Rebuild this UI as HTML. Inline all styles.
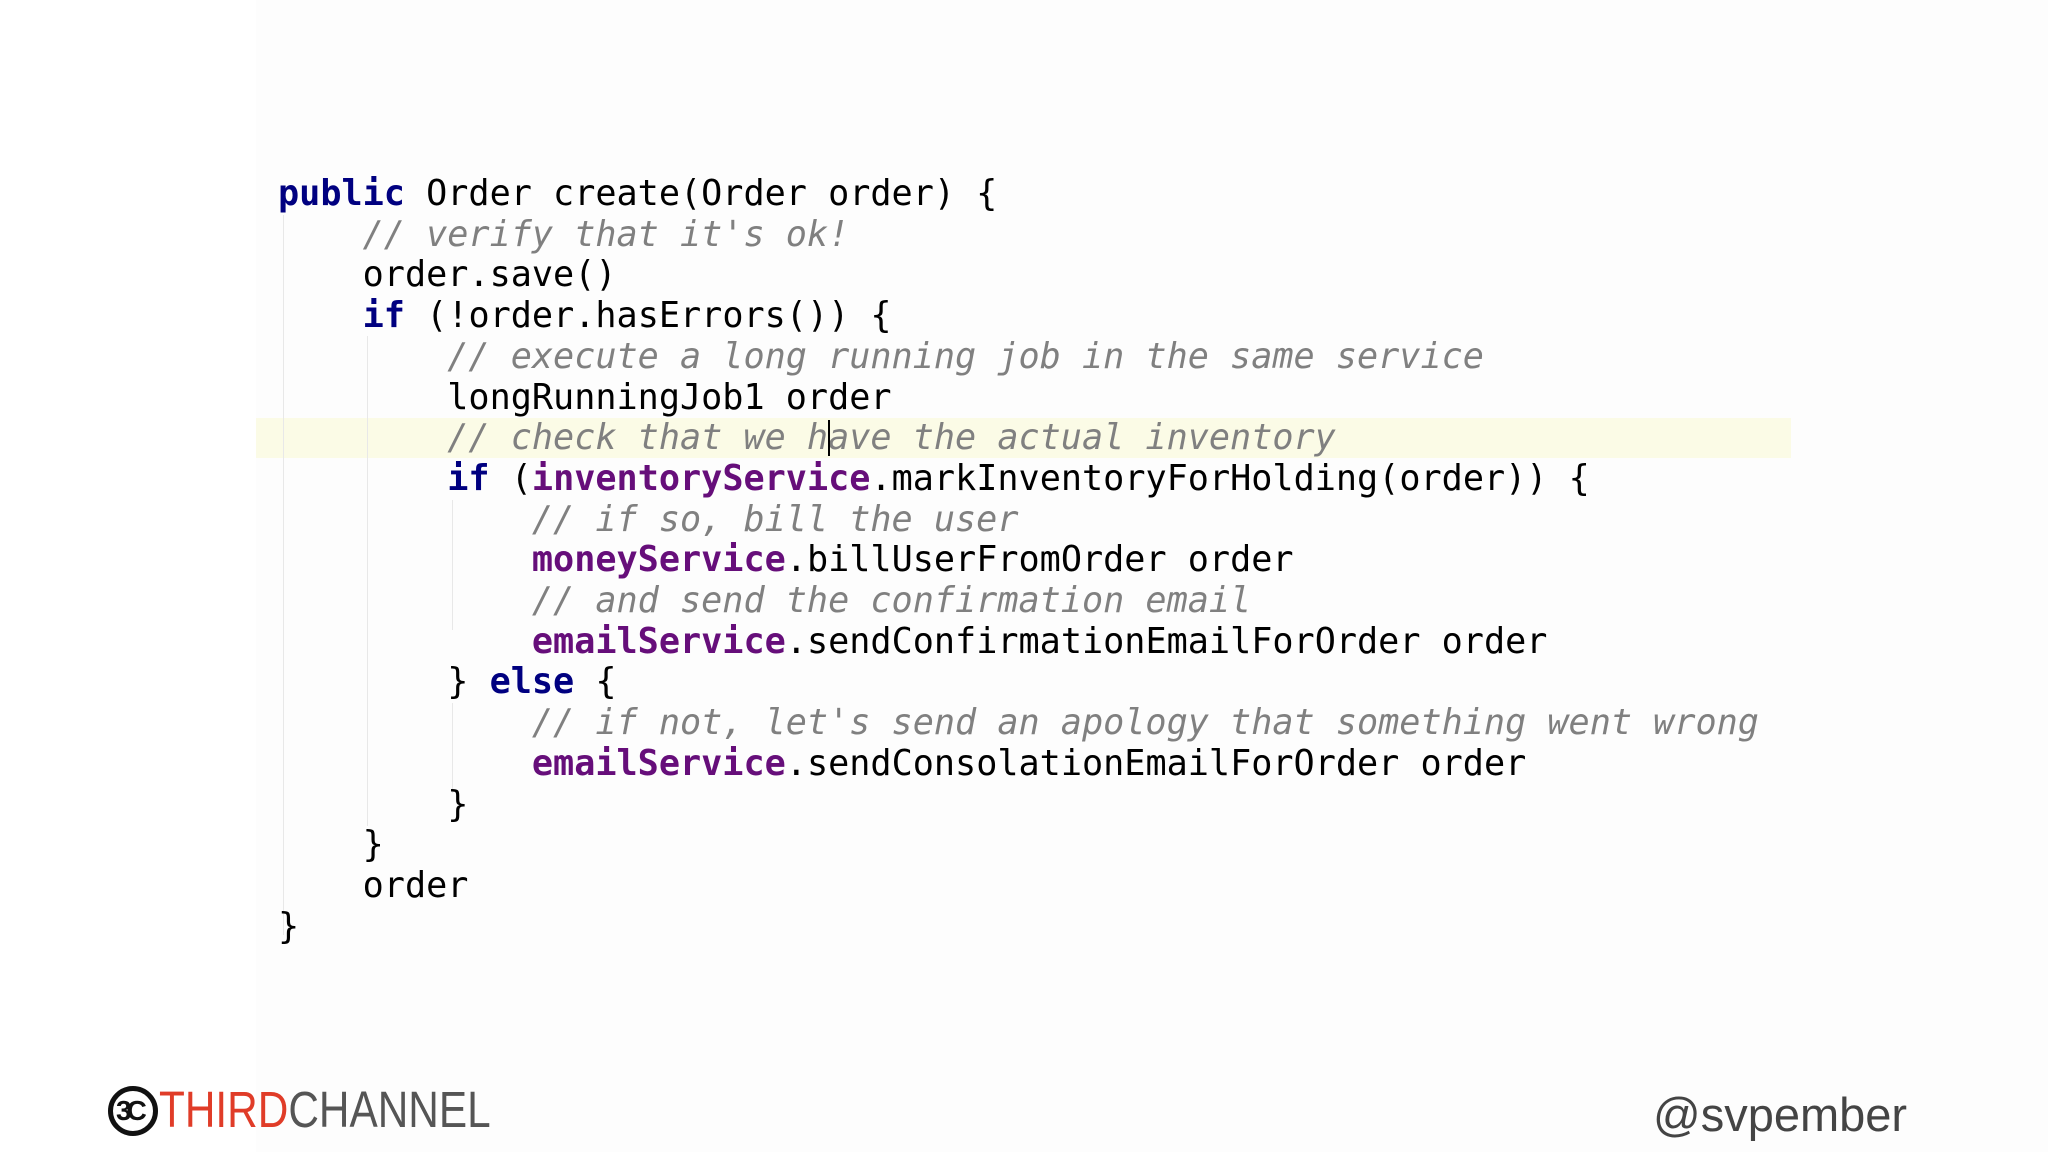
<!DOCTYPE html>
<html><head><meta charset="utf-8"><style>
html,body{margin:0;padding:0;}
body{width:2048px;height:1152px;background:#fff;position:relative;overflow:hidden;}
.panel{position:absolute;left:256px;top:0;width:1792px;height:1152px;background:#fdfdfd;}
.hl{position:absolute;left:256px;top:418px;width:1535px;height:40px;background:#fbfbe6;}
.guide{position:absolute;width:1px;background:#e8e8e8;}
pre{position:absolute;left:278px;top:174px;margin:0;font-family:"DejaVu Sans Mono","Liberation Mono",monospace;font-size:35.15px;line-height:40.7px;color:#000;}
.k{color:#000080;font-weight:bold;}
.p{color:#660e7a;font-weight:bold;}
.c{color:#808080;font-style:italic;}
.cur{position:absolute;left:828px;top:420px;width:2px;height:36px;background:#000;}
.logo{position:absolute;left:108px;top:1086px;width:50px;height:50px;border:5px solid #111;border-radius:50%;box-sizing:border-box;}
.logo span{position:absolute;left:3px;top:3px;font:bold 28px "Liberation Sans",sans-serif;color:#111;letter-spacing:-5px;line-height:34px;}
.tc{position:absolute;left:159px;top:1081px;font-family:"Liberation Sans",sans-serif;font-size:51px;line-height:58px;color:#555;transform:scaleX(0.83);transform-origin:0 0;white-space:nowrap;}
.tc b{font-weight:normal;color:#e03c28;}
.sv{position:absolute;left:1653px;top:1086px;font-family:"Liberation Sans",sans-serif;font-size:47px;line-height:58px;color:#444;}
</style></head><body>
<div class="panel"></div>
<div class="hl"></div>
<div class="guide" style="left:283px;top:215px;height:720px"></div>
<div class="guide" style="left:367px;top:336px;height:490px"></div>
<div class="guide" style="left:452px;top:500px;height:130px"></div>
<div class="guide" style="left:452px;top:703px;height:90px"></div>
<pre><span class="k">public</span> Order create(Order order) {
    <span class="c">// verify that it's ok!</span>
    order.save()
    <span class="k">if</span> (!order.hasErrors()) {
        <span class="c">// execute a long running job in the same service</span>
        longRunningJob1 order
        <span class="c">// check that we have the actual inventory</span>
        <span class="k">if</span> (<span class="p">inventoryService</span>.markInventoryForHolding(order)) {
            <span class="c">// if so, bill the user</span>
            <span class="p">moneyService</span>.billUserFromOrder order
            <span class="c">// and send the confirmation email</span>
            <span class="p">emailService</span>.sendConfirmationEmailForOrder order
        } <span class="k">else</span> {
            <span class="c">// if not, let's send an apology that something went wrong</span>
            <span class="p">emailService</span>.sendConsolationEmailForOrder order
        }
    }
    order
}</pre>
<div class="cur"></div>
<div class="logo"><span>3C</span></div>
<div class="tc"><b>THIRD</b>CHANNEL</div>
<div class="sv">@svpember</div>
</body></html>
